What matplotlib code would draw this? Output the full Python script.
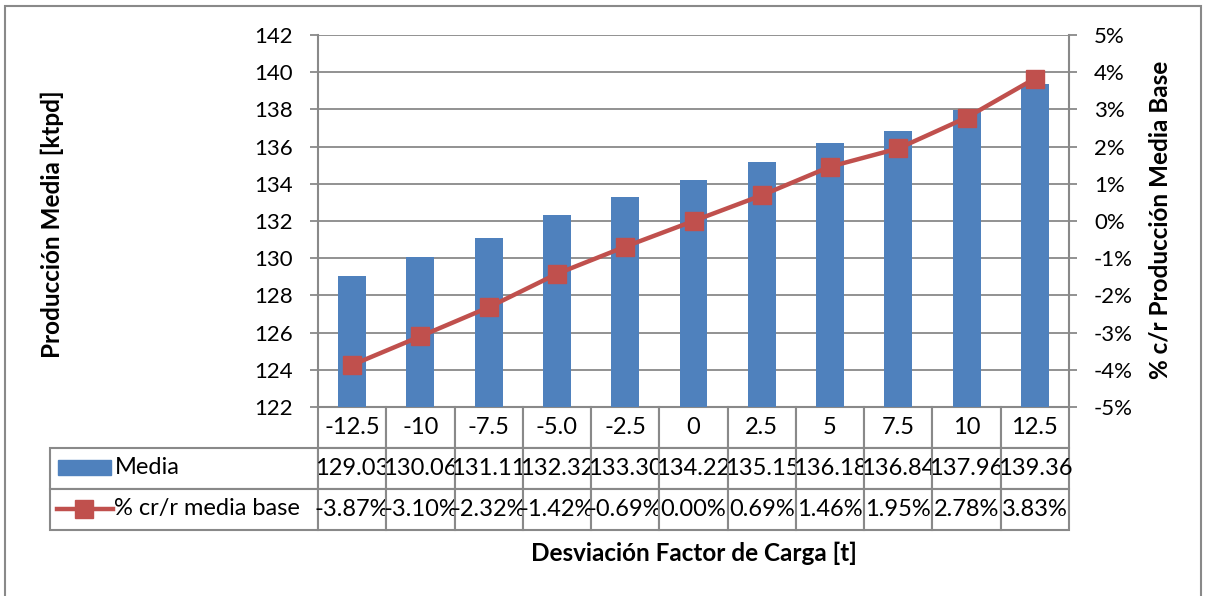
import matplotlib.pyplot as plt
from matplotlib.patches import Rectangle
from matplotlib.lines import Line2D

plt.rcParams['font.family'] = ['Lato', 'DejaVu Sans']

# Datos
categorias = ["-12.5", "-10", "-7.5", "-5.0", "-2.5", "0", "2.5", "5", "7.5", "10", "12.5"]
media = [129.03, 130.06, 131.11, 132.32, 133.30, 134.22, 135.15, 136.18, 136.84, 137.96, 139.36]
pct_base = [-3.87, -3.10, -2.32, -1.42, -0.69, 0.00, 0.69, 1.46, 1.95, 2.78, 3.83]

AZUL = '#4F81BD'
ROJO = '#C0504D'
GRIS = '#898989'
FS_TICK = 16
FS_TABLA = 17
FS_TIT = 17.5

W, H = 1208, 596
fig = plt.figure(figsize=(W / 100, H / 100), dpi=100)

# Marco del area del grafico
fig.patches.append(Rectangle((5 / W, -0.05), 1196 / W, (H - 6) / H + 0.05,
                             transform=fig.transFigure, fill=False,
                             edgecolor=GRIS, lw=1.5))

x0, x1, y_top, y_bot = 318, 1069, 35, 407
ax = fig.add_axes([x0 / W, (H - y_bot) / H, (x1 - x0) / W, (y_bot - y_top) / H])
x = list(range(len(categorias)))

ax.bar(x, media, width=0.41, color=AZUL, zorder=2)
ax.set_ylim(122, 142)
ax.set_yticks(range(122, 143, 2))
ax.set_xlim(-0.5, len(categorias) - 0.5)
ax.set_xticks([])
ax.grid(axis='y', color=GRIS, lw=1.3, zorder=0)
for s in ['top', 'bottom', 'right']:
    ax.spines[s].set_visible(False)
ax.spines['left'].set_color(GRIS)
ax.spines['left'].set_linewidth(1.5)
ax.tick_params(axis='y', direction='out', length=6, width=1.3, color=GRIS,
               labelsize=FS_TICK, pad=12)

ax2 = ax.twinx()
ax2.plot(x, pct_base, color=ROJO, lw=3.2, marker='s', markersize=13,
         markerfacecolor=ROJO, markeredgecolor=ROJO, zorder=3)
ax2.set_ylim(-5, 5)
ax2.set_yticks(range(-5, 6))
ax2.set_yticklabels([f"{v}%" for v in range(-5, 6)])
for s in ['top', 'bottom', 'left']:
    ax2.spines[s].set_visible(False)
ax2.spines['right'].set_color(GRIS)
ax2.spines['right'].set_linewidth(1.5)
ax2.tick_params(axis='y', direction='out', length=6, width=1.3, color=GRIS,
                labelsize=FS_TICK, pad=12)

# Tabla de datos
t_left, t_bot = 50, 530
ancho_ax = x1 - x0
alto_ax = y_bot - y_top
filas = [[""] + categorias,
         [""] + [f"{v:.2f}" for v in media],
         [""] + [f"{v:.2f}%" for v in pct_base]]
col_leg = x0 - t_left
col_dat = ancho_ax / len(categorias)
anchos = [col_leg] + [col_dat] * len(categorias)
tabla = ax.table(cellText=filas, colWidths=[a / (x1 - t_left) for a in anchos],
                 cellLoc='center',
                 bbox=[(t_left - x0) / ancho_ax, -(t_bot - y_bot) / alto_ax,
                       (x1 - t_left) / ancho_ax, (t_bot - y_bot) / alto_ax])
tabla.auto_set_font_size(False)
tabla.set_fontsize(FS_TABLA)
for (r, c), cell in tabla.get_celld().items():
    cell.set_edgecolor(GRIS)
    cell.set_linewidth(1.5)
    cell.PAD = 0.0
tabla[0, 0].visible_edges = 'open'

# Leyenda dentro de la tabla
def ax_xy(px, py):
    return (px - x0) / ancho_ax, (y_bot - py) / alto_ax

bx, by = ax_xy(58, 475)
ax.add_patch(Rectangle((bx, by), 53 / ancho_ax, 15 / alto_ax, transform=ax.transAxes,
                       color=AZUL, clip_on=False))
tx, ty = ax_xy(115, 467)
ax.text(tx, ty, "Media", transform=ax.transAxes, fontsize=FS_TABLA, va='center', ha='left')

lx0, ly = ax_xy(57, 509)
lx1, _ = ax_xy(113, 509)
lmx, _ = ax_xy(84, 509)
ax.add_line(Line2D([lx0, lx1], [ly, ly], transform=ax.transAxes, color=ROJO, lw=3.2,
                   clip_on=False))
ax.add_line(Line2D([lmx], [ly], transform=ax.transAxes, marker='s', markersize=13,
                   color=ROJO, clip_on=False))
tx, ty = ax_xy(114, 509)
ax.text(tx, ty, "% cr/r media base", transform=ax.transAxes, fontsize=FS_TABLA,
        va='center', ha='left')

# Titulos de ejes
fig.text(52 / W, 1 - 224 / H, "Producción Media [ktpd]", rotation=90,
         fontsize=FS_TIT, fontweight='bold', ha='center', va='center')
fig.text(1160 / W, 1 - 220 / H, "% c/r Producción Media Base", rotation=90,
         fontsize=FS_TIT, fontweight='bold', ha='center', va='center')
fig.text((x0 + x1) / 2 / W, 1 - 553 / H, "Desviación Factor de Carga [t]",
         fontsize=FS_TIT, fontweight='bold', ha='center', va='center')

fig.savefig("out.png", dpi=100)
